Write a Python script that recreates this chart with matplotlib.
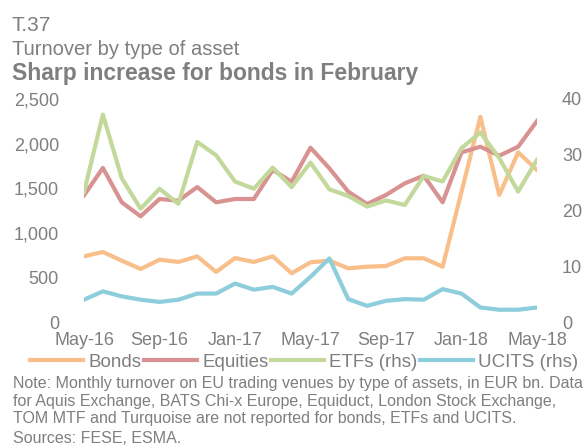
import numpy as np
import matplotlib
matplotlib.use("Agg")
import matplotlib.pyplot as plt

plt.rcParams['font.family'] = ['Liberation Sans', 'DejaVu Sans']

# monthly data, May-16 .. May-18
months = ["May-16", "Jun-16", "Jul-16", "Aug-16", "Sep-16", "Oct-16", "Nov-16", "Dec-16",
          "Jan-17", "Feb-17", "Mar-17", "Apr-17", "May-17", "Jun-17", "Jul-17", "Aug-17",
          "Sep-17", "Oct-17", "Nov-17", "Dec-17", "Jan-18", "Feb-18", "Mar-18", "Apr-18",
          "May-18"]
bonds = [736, 785, 688, 594, 699, 673, 736, 561, 717, 673, 736, 546, 669, 688, 602, 620,
         628, 714, 714, 620, 1460, 2300, 1424, 1902, 1704]
equities = [1420, 1727, 1342, 1185, 1379, 1360, 1513, 1342, 1379, 1379, 1704, 1573, 1954,
            1723, 1461, 1323, 1424, 1555, 1640, 1342, 1902, 1965, 1864, 1965, 2253]
etfs = [23.3, 37.2, 25.8, 20.3, 23.9, 21.2, 32.3, 29.9, 25.2, 23.9, 27.7, 24.2, 28.6, 23.8,
        22.6, 20.7, 21.8, 21.0, 26.2, 25.2, 31.2, 34.0, 29.4, 23.4, 29.1]
ucits = [4.0, 5.5, 4.6, 4.0, 3.6, 4.0, 5.1, 5.1, 6.9, 5.8, 6.3, 5.1, 8.1, 11.4, 4.1, 2.9,
         3.8, 4.1, 4.0, 5.9, 5.1, 2.6, 2.2, 2.2, 2.6]

gray = '#7f7f7f'
c_bonds = '#f9bf8b'
c_eq = '#d89291'
c_etf = '#c3d89b'
c_ucits = '#8ecddb'

x = np.arange(len(months))

fig = plt.figure(figsize=(5.85, 4.48), dpi=100)
ax = fig.add_axes([84 / 585, 1 - 322 / 448, (537 - 84) / 585, 223 / 448])
ax2 = ax.twinx()

l1, = ax.plot(x, bonds, color=c_bonds, lw=3, label='Bonds')
l2, = ax.plot(x, equities, color=c_eq, lw=3, label='Equities')
l3, = ax2.plot(x, etfs, color=c_etf, lw=3, label='ETFs (rhs)')
l4, = ax2.plot(x, ucits, color=c_ucits, lw=3, label='UCITS (rhs)')

ax.set_xlim(0, len(months) - 1)
ax.set_ylim(0, 2500)
ax2.set_ylim(0, 40)
ax.set_yticks(np.arange(0, 2501, 500))
ax.set_yticklabels(['{:,}'.format(v) for v in range(0, 2501, 500)])
ax2.set_yticks(np.arange(0, 41, 10))
ax.set_xticks(x[::4])
ax.set_xticklabels(months[::4])

for a in (ax, ax2):
    for s in a.spines.values():
        s.set_visible(False)
    a.tick_params(length=0, colors=gray, labelsize=13)
ax.tick_params(axis='y', pad=18)
ax2.tick_params(axis='y', pad=18)
ax.tick_params(axis='x', pad=7)

fig.legend(handles=[l1, l2, l3, l4], loc='center left',
           bbox_to_anchor=(30 / 585, 1 - 362 / 448), ncol=4, frameon=False,
           fontsize=13.5, labelcolor=gray, handlelength=2.85, handletextpad=0.27,
           columnspacing=0.12, borderaxespad=0, borderpad=0)

fig.text(12 / 585, 1 - 31 / 448, 'T.37', fontsize=15, color=gray, va='baseline')
fig.text(12 / 585, 1 - 55 / 448, 'Turnover by type of asset', fontsize=14.5, color=gray,
         va='baseline')
fig.text(12 / 585, 1 - 80 / 448, 'Sharp increase for bonds in February', fontsize=16.5,
         color=gray, va='baseline', fontweight='bold')

notes = ["Note: Monthly turnover on EU trading venues by type of assets, in EUR bn. Data",
         "for Aquis Exchange, BATS Chi-x Europe, Equiduct, London Stock Exchange,",
         "TOM MTF and Turquoise are not reported for bonds, ETFs and UCITS.",
         "Sources: FESE, ESMA."]
for yy, t in zip([383, 401, 418, 438], notes):
    fig.text(13 / 585, 1 - yy / 448, t, fontsize=11.5, color=gray, va='center')

fig.savefig('out.png', dpi=100)
